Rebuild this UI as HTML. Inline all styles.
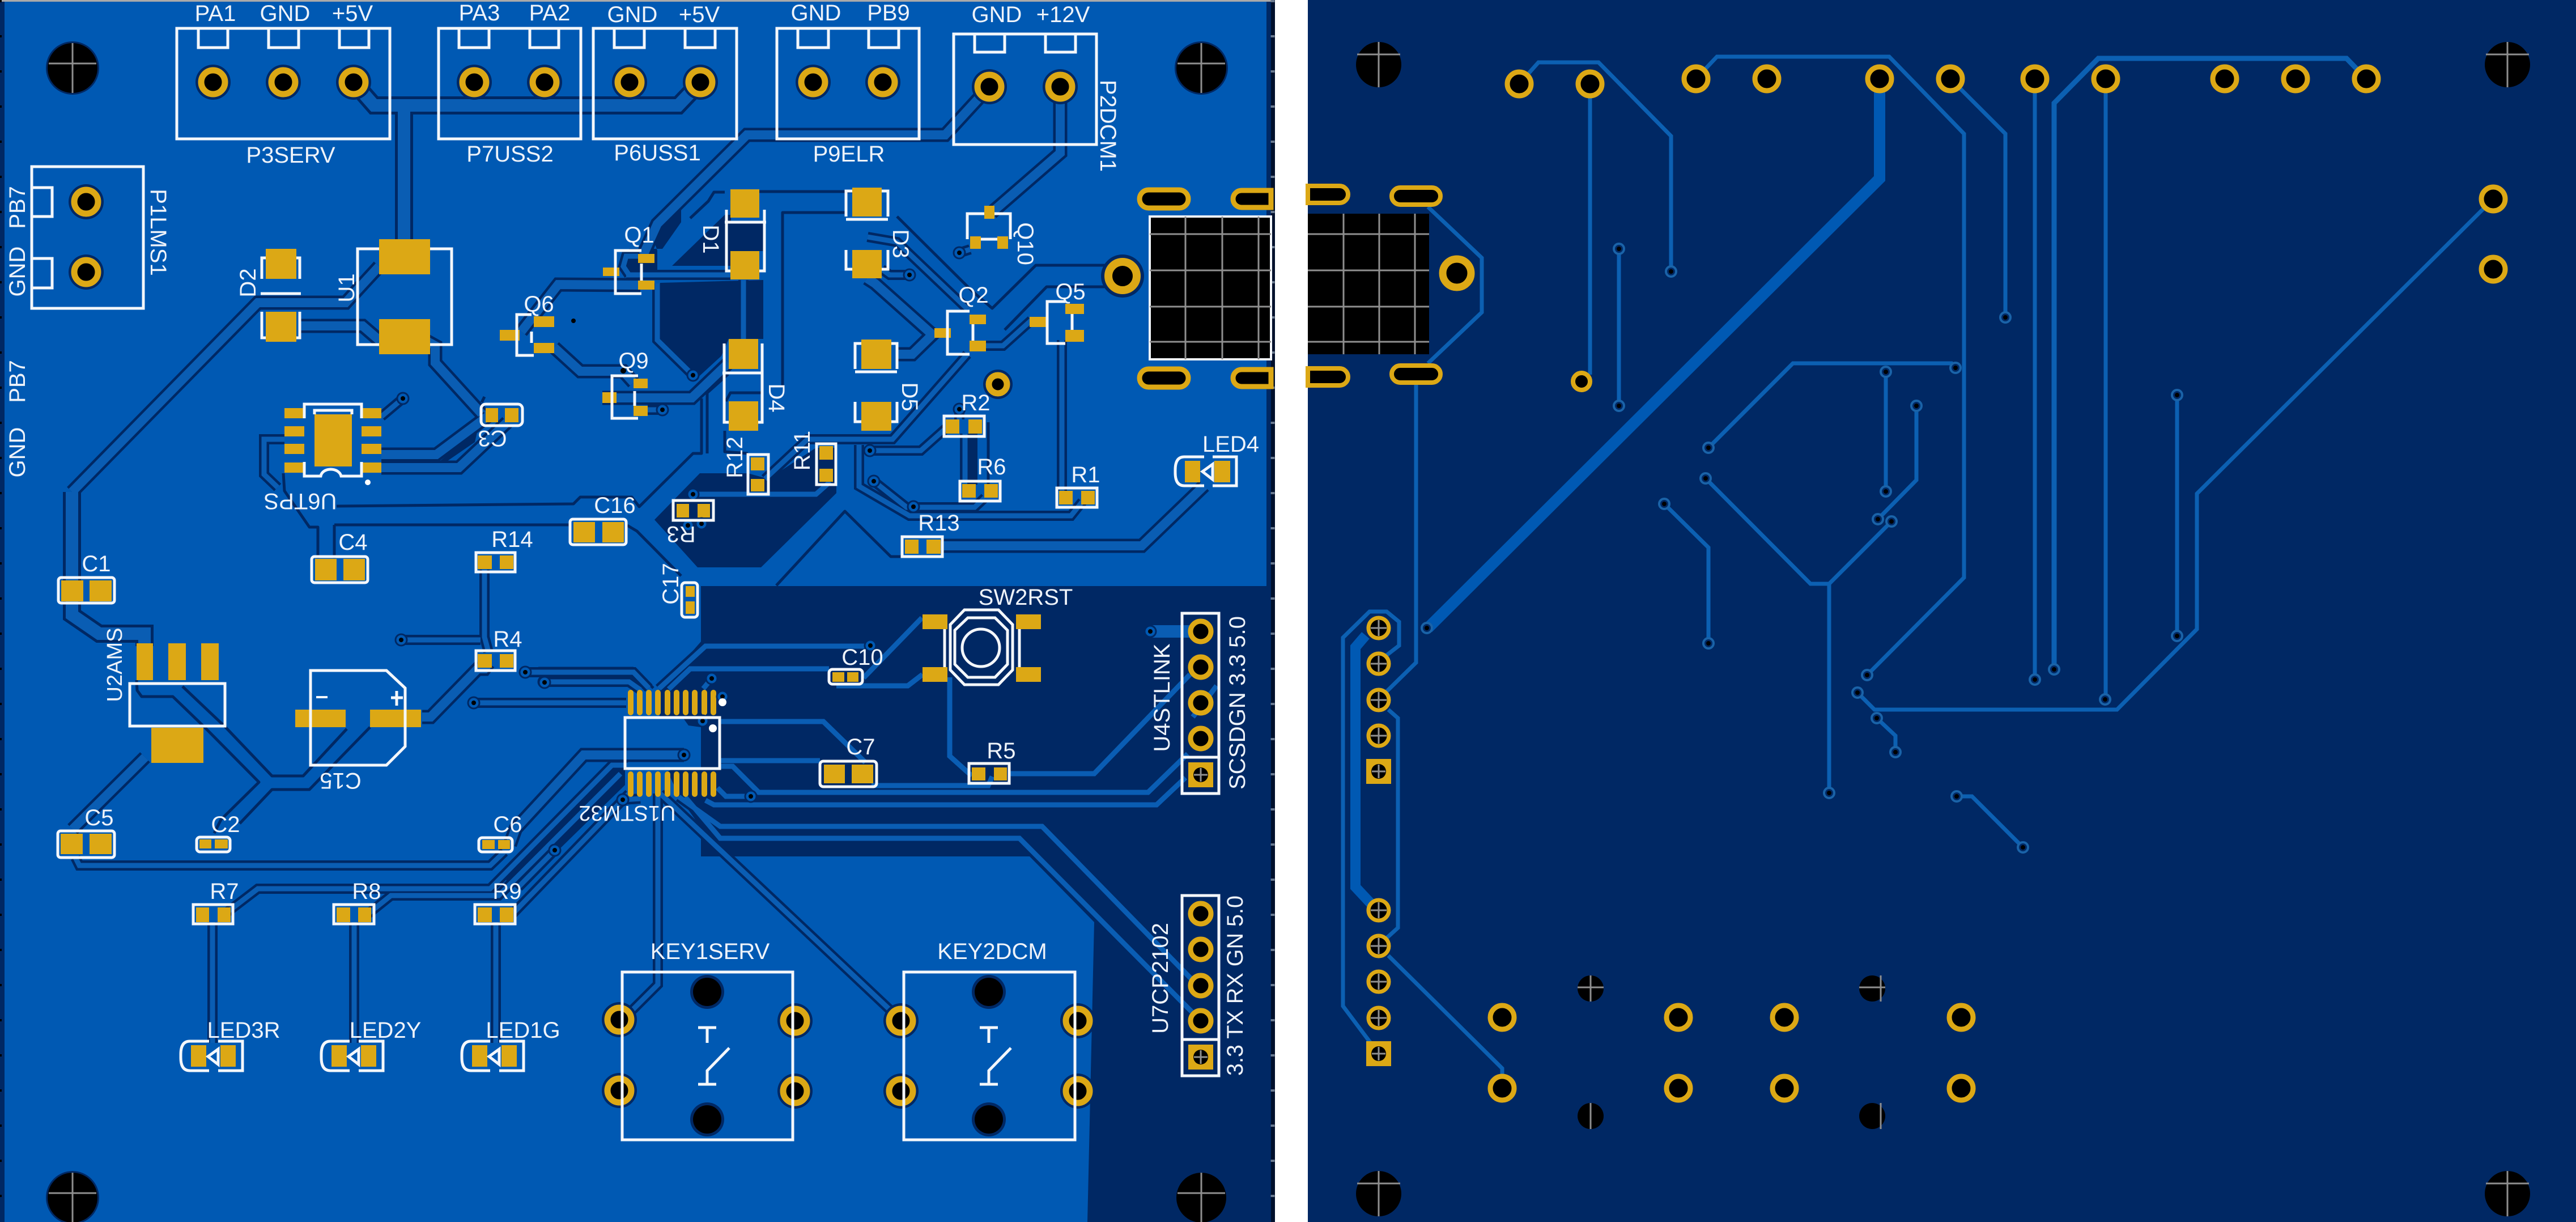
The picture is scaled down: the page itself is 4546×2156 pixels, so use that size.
<!DOCTYPE html>
<html><head><meta charset="utf-8"><title>PCB layout</title>
<style>
html,body{margin:0;padding:0;background:#fff}
svg{display:block}
text{font-family:"Liberation Sans",sans-serif;font-size:40px;fill:#eef3fa;text-anchor:middle;dominant-baseline:central}
.g{fill:#dca815}
.s{fill:none;stroke:#f4f7fb;stroke-width:5}
.d{fill:none;stroke:#002864;stroke-width:5;stroke-linejoin:round}
.b{fill:#002864}
.r{fill:none;stroke:#0c60b2;stroke-width:7;stroke-linejoin:miter}
.via{fill:#002864;stroke:#1a63a8;stroke-width:4}
.vt{fill:#000}
.x{stroke:#8f8f8f;stroke-width:3;fill:none}
</style></head><body>
<svg xmlns="http://www.w3.org/2000/svg" width="4546" height="2156" viewBox="0 0 4546 2156">
<defs>
<g id="pl"><circle r="31" fill="#002864"/><circle r="21" fill="#000" stroke="#dca815" stroke-width="11"/></g>
<g id="pr"><circle r="21" fill="#000" stroke="#dca815" stroke-width="9"/></g>
<g id="pc"><circle r="18" fill="#000" stroke="#dca815" stroke-width="7"/><path class="x" d="M-14 0H14M0-14V14"/></g>
<g id="pk"><circle r="18" fill="#000" stroke="#dca815" stroke-width="9"/></g>
<g id="v"><circle r="9" class="via"/><circle r="4" class="vt"/></g>
<g id="vl"><circle r="10" fill="#0059b3" stroke="#002864" stroke-width="3"/><circle r="4" fill="#000"/></g>
<g id="sq"><rect x="-22" y="-22" width="44" height="44" class="g"/><circle r="13" fill="#000"/><path class="x" d="M-12 0H12M0-12V12"/></g>
<g id="hl"><circle r="47" fill="#002864"/><circle r="44" fill="#000"/><path class="x" d="M-42-8H42M0-44V44"/></g>
<g id="hr"><circle r="40" fill="#000"/><path class="x" d="M-38-18H38M0-40V40"/></g>
<g id="thin">
<path d="M855 1005V1124L862 1150"/><path d="M708 1129H848"/>
<path d="M375 1627V1840"/><path d="M625 1627V1840"/><path d="M875 1627V1840"/>
<path d="M133 1513L140 1527H865L890 1503"/>
<path d="M400 1610L455 1568H865L1080 1350H1108"/><path d="M650 1612L690 1580H880L1095 1365"/><path d="M905 1612L1110 1400"/>
<path d="M927 1186H1118L1145 1214"/><path d="M960 1203H1110L1130 1217"/><path d="M836 1240H1105"/>
<path d="M1163 1215L1245 1140H1537"/><path d="M1180 1216L1218 1180H1463"/>
<path d="M1524 1196L1627 1090"/><path d="M1476 1210H1602L1628 1190"/><path d="M1256 1197L1241 1215"/>
<path d="M1272 1273H1453L1527 1345"/><path d="M1272 1342H1447"/>
<path d="M1266 1390L1281 1405H1325"/><path d="M1271 1352H1293L1339 1398H2026L2096 1330"/>
<path d="M1245 1412L1260 1420H2041L2092 1372"/>
<path d="M1781 1365H1931L2100 1190"/><path d="M1676 1195V1334L1715 1369"/><path d="M1538 1386H1744L1751 1370"/>
<path d="M2147 1210L2105 1265"/>
<path d="M1198 1406L1271 1458H1839L2110 1735"/><path d="M1209 1406L1271 1479H1799L2103 1785"/>
<path d="M1165 1400L1590 1800"/><path d="M1161 1400V1737L1100 1798"/>
<path d="M979 1500L915 1565"/><path d="M1099 1411L1130 1409"/>
<path d="M1556 475L1570 485H1605"/><path d="M1740 610H1770L1820 565"/>
<path d="M1350 845L1425 775H1575L1707 625"/><path d="M1516 785V858L1605 910H1890L1910 885"/>
<path d="M1535 795H1625L1670 755"/><path d="M1542 849L1600 895H1720L1738 878"/>
<path d="M1703 765V850"/><path d="M1693 722V740"/><path d="M1874 600V866"/><path d="M1693 446L1712 440"/>
<path d="M1105 485H1289"/><path d="M1126 452H1105L1100 470L1110 485"/><path d="M1312 494V598"/>
<path d="M1160 500V600L1223 662"/><path d="M1223 872H1440L1465 850"/><path d="M1169 723H1143"/>
<path d="M502 775H466V837L490 860"/><path d="M711 703L673 735"/><path d="M1531 418L1583 427L1707 545"/>
</g>
<g id="med">
<path d="M127 868L455 534H610L669 470"/><path d="M531 575H640L669 600"/>
<path d="M750 600L768 610V640L850 730"/><path d="M673 802H770L860 735"/><path d="M673 825H810L895 745"/>
<path d="M745 1265H760L843 1180H855L862 1170"/><path d="M256 1336L128 1463"/>
<path d="M1207 1332H1030L910 1462L900 1490"/>
<path d="M1746 153L1668 238H1318L1160 395L1135 450"/><path d="M1871 153V270L1750 375"/>
<path d="M1660 963H2015L2125 857"/>
<path d="M1130 503L985 502L920 585"/><path d="M978 613L1024 655H1100L1118 675"/><path d="M1063 702H1221L1286 640"/>
<path d="M1530 491L1544 500L1645 590"/><path d="M1583 625H1610L1650 586"/>
</g>
<g id="wide">
<path d="M624 145L660 186H1197L1236 145"/><path d="M713 186V430"/>
<path d="M127 868V1085L175 1118H255V1140"/>
<path d="M2030 1114H2100" />
</g>
</defs>

<rect width="4546" height="2156" fill="#fff"/>
<!-- LEFT BOARD -->
<rect x="0" y="0" width="2250" height="2156" fill="#002864"/>
<rect x="8" y="3" width="2227" height="2153" fill="#0059b3"/>
<rect x="0" y="0" width="2250" height="3" fill="#a9a9a9"/>
<rect x="2243" y="0" width="7" height="2156" fill="#00102c"/>
<path d="M1.5 0V2156" stroke="#000" stroke-width="3" stroke-dasharray="4 58"/>
<path d="M2246 0V2156" stroke="#6a7a90" stroke-width="7" stroke-dasharray="4 58"/>

<!-- dark copper pour -->
<path class="b" d="M1237 1034H2235V2156H1919L1931 1627L1817 1511H1237V1460L1200 1408L1178 1361L1190 1356H1237V1283L1215 1280L1205 1266H1164V1215L1237 1132Z"/>
<path class="b" d="M1090 1352H1103V1385L970 1515L915 1570L890 1550Z"/>
<path class="b" d="M1148 409L1202 365V392L1169 439H1110L1103 460L1110 478H1160V442Z"/>
<path class="b" d="M1279 379L1186 469H1290V379Z"/>
<path class="b" d="M1279 392H1348V443H1279Z"/>
<path class="b" d="M1165 499L1347 494V598H1286L1273 628L1225 672L1165 600Z"/>
<path class="b" d="M1155 917L1235 835H1320L1356 845L1440 790H1476V870L1343 1001H1231Z"/>
<path class="b" d="M777 813L843 758L838 780L790 813Z"/>
<rect class="b" x="1707" y="765" width="18" height="90"/>

<!-- explicit clearance lines -->
<path class="d" d="M594 893L1012 889L1024 877H1115L1128 894L1223 800H1238V703"/>
<path class="d" d="M1248 800V693L1285 660"/>
<path class="d" d="M1107 927L1124 937L1202 1016"/>
<path class="d" d="M590 926H1006"/>
<path class="d" d="M561 985V930H546L502 866L500 835"/>
<path class="d" d="M590 985V926"/>
<path class="d" d="M850 710L855 700"/>
<path class="d" d="M241 1200L242 1218L250 1229H305L360 1282L457 1380L390 1446L378 1470"/>
<path class="d" d="M322 1211L397 1282L480 1369H535L612 1286"/>
<path class="d" d="M423 1453L480 1393H546L653 1283"/>
<path class="d" d="M1340 338H1504"/>
<path class="d" d="M1381 680V375H1493"/>
<path class="d" d="M1279 339H1260L1250 355L1218 385"/>
<path class="d" d="M1583 382L1715 513L1751 544L1828 468H1950"/>
<path class="d" d="M1773 582L1847 506H1950"/>
<path class="d" d="M1531 497L1638 586L1604 617H1583"/>
<path class="d" d="M1279 760V797L1320 800"/>
<path class="d" d="M1347 693H1289L1281 708"/>
<path class="d" d="M1370 1033L1491 902L1572 982H1597"/>
<path class="d" d="M1744 745V855"/>
<path class="d" d="M1118 1179H950"/>
<path class="d" d="M1118 1179L1153 1214"/>

<!-- traces: clearance + copper -->
<use href="#thin" fill="none" stroke="#002864" stroke-width="18"/>
<use href="#med" fill="none" stroke="#002864" stroke-width="25"/>
<use href="#wide" fill="none" stroke="#002864" stroke-width="32"/>
<use href="#thin" fill="none" stroke="#0a5db3" stroke-width="9"/>
<use href="#med" fill="none" stroke="#0a5db3" stroke-width="16"/>
<use href="#wide" fill="none" stroke="#0a5db3" stroke-width="22"/>

<!-- big holes -->
<use href="#hl" x="128" y="120"/><use href="#hl" x="2120" y="120"/><use href="#hl" x="128" y="2113"/><use href="#hl" x="2120" y="2113"/>

<!-- SMD pads left board -->
<g class="g">
<rect x="669" y="422" width="90" height="62"/><rect x="669" y="563" width="90" height="62"/>
<rect x="469" y="439" width="54" height="53"/><rect x="469" y="550" width="54" height="53"/>
<rect x="555" y="731" width="66" height="92"/>
<rect x="502" y="720" width="35" height="18"/><rect x="502" y="752" width="35" height="18"/><rect x="502" y="783" width="35" height="18"/><rect x="502" y="816" width="35" height="18"/>
<rect x="638" y="720" width="35" height="18"/><rect x="638" y="752" width="35" height="18"/><rect x="638" y="783" width="35" height="18"/><rect x="638" y="816" width="35" height="18"/>
<rect x="857" y="720" width="22" height="25"/><rect x="891" y="720" width="24" height="25"/>
<rect x="108" y="1024" width="39" height="37"/><rect x="158" y="1024" width="39" height="37"/>
<rect x="556" y="986" width="38" height="38"/><rect x="606" y="986" width="38" height="38"/>
<rect x="1012" y="921" width="38" height="36"/><rect x="1063" y="921" width="38" height="36"/>
<rect x="843" y="980" width="25" height="24"/><rect x="882" y="980" width="24" height="24"/>
<rect x="882" y="582" width="35" height="19"/><rect x="942" y="558" width="36" height="19"/><rect x="942" y="605" width="36" height="18"/>
<rect x="1063" y="692" width="25" height="19"/><rect x="1118" y="668" width="25" height="17"/><rect x="1118" y="716" width="25" height="18"/>
<rect x="1064" y="472" width="29" height="15"/><rect x="1126" y="448" width="29" height="16"/><rect x="1126" y="495" width="29" height="16"/>
<rect x="1289" y="334" width="51" height="50"/><rect x="1289" y="443" width="51" height="50"/>
<rect x="1286" y="598" width="52" height="53"/><rect x="1286" y="708" width="52" height="52"/>
<rect x="1325" y="807" width="24" height="23"/><rect x="1325" y="845" width="24" height="22"/>
<rect x="1446" y="787" width="24" height="24"/><rect x="1446" y="827" width="24" height="23"/>
<rect x="1194" y="889" width="22" height="24"/><rect x="1231" y="889" width="22" height="24"/>
<rect x="1210" y="1034" width="16" height="19"/><rect x="1210" y="1061" width="16" height="22"/>
<rect x="521" y="1252" width="89" height="31"/><rect x="653" y="1252" width="90" height="31"/>
<rect x="241" y="1135" width="29" height="65"/><rect x="297" y="1135" width="31" height="65"/><rect x="355" y="1135" width="31" height="65"/>
<rect x="267" y="1284" width="92" height="62"/>
<rect x="107" y="1471" width="39" height="36"/><rect x="158" y="1471" width="39" height="36"/>
<rect x="352" y="1481" width="21" height="16"/><rect x="379" y="1481" width="23" height="16"/>
<rect x="851" y="1482" width="22" height="16"/><rect x="879" y="1482" width="21" height="16"/>
<rect x="843" y="1154" width="25" height="24"/><rect x="882" y="1154" width="24" height="24"/>
<rect x="346" y="1601" width="23" height="26"/><rect x="384" y="1601" width="23" height="26"/>
<rect x="594" y="1601" width="24" height="26"/><rect x="632" y="1601" width="23" height="26"/>
<rect x="843" y="1601" width="25" height="26"/><rect x="882" y="1601" width="24" height="26"/>
<rect x="337" y="1844" width="27" height="38"/><rect x="389" y="1844" width="27" height="38"/>
<rect x="585" y="1844" width="27" height="38"/><rect x="637" y="1844" width="27" height="38"/>
<rect x="833" y="1844" width="27" height="38"/><rect x="885" y="1844" width="27" height="38"/>
<rect x="2091" y="813" width="27" height="38"/><rect x="2143" y="813" width="28" height="38"/>
<rect x="1504" y="331" width="52" height="51"/><rect x="1504" y="441" width="52" height="50"/>
<rect x="1520" y="599" width="53" height="52"/><rect x="1520" y="709" width="53" height="51"/>
<rect x="1737" y="363" width="18" height="23"/><rect x="1712" y="417" width="19" height="22"/><rect x="1760" y="417" width="19" height="22"/>
<rect x="1649" y="579" width="29" height="17"/><rect x="1711" y="555" width="29" height="17"/><rect x="1711" y="601" width="29" height="19"/>
<rect x="1817" y="559" width="33" height="18"/><rect x="1880" y="536" width="33" height="18"/><rect x="1880" y="582" width="33" height="21"/>
<rect x="1628" y="1084" width="44" height="26"/><rect x="1793" y="1084" width="44" height="26"/><rect x="1628" y="1177" width="44" height="26"/><rect x="1793" y="1177" width="44" height="26"/>
<rect x="1469" y="1186" width="21" height="17"/><rect x="1495" y="1186" width="20" height="17"/>
<rect x="1454" y="1349" width="37" height="33"/><rect x="1503" y="1349" width="38" height="33"/>
<rect x="1715" y="1354" width="24" height="23"/><rect x="1754" y="1354" width="23" height="23"/>
<rect x="1669" y="740" width="24" height="25"/><rect x="1709" y="740" width="24" height="25"/>
<rect x="1698" y="854" width="24" height="24"/><rect x="1737" y="854" width="24" height="24"/>
<rect x="1869" y="866" width="24" height="24"/><rect x="1908" y="866" width="24" height="24"/>
<rect x="1597" y="952" width="24" height="25"/><rect x="1635" y="952" width="25" height="25"/>
<!-- STM32 pins -->
<rect x="1108" y="1217" width="10" height="45" rx="5"/><rect x="1124" y="1217" width="10" height="45" rx="5"/><rect x="1140" y="1217" width="10" height="45" rx="5"/><rect x="1156" y="1217" width="10" height="45" rx="5"/><rect x="1173" y="1217" width="10" height="45" rx="5"/><rect x="1189" y="1217" width="10" height="45" rx="5"/><rect x="1205" y="1217" width="10" height="45" rx="5"/><rect x="1221" y="1217" width="10" height="45" rx="5"/><rect x="1238" y="1217" width="10" height="45" rx="5"/><rect x="1254" y="1217" width="10" height="45" rx="5"/>
<rect x="1108" y="1361" width="10" height="45" rx="5"/><rect x="1124" y="1361" width="10" height="45" rx="5"/><rect x="1140" y="1361" width="10" height="45" rx="5"/><rect x="1156" y="1361" width="10" height="45" rx="5"/><rect x="1173" y="1361" width="10" height="45" rx="5"/><rect x="1189" y="1361" width="10" height="45" rx="5"/><rect x="1205" y="1361" width="10" height="45" rx="5"/><rect x="1221" y="1361" width="10" height="45" rx="5"/><rect x="1238" y="1361" width="10" height="45" rx="5"/><rect x="1254" y="1361" width="10" height="45" rx="5"/>
</g>

<!-- vias left -->
<use href="#vl" x="711" y="703"/><use href="#vl" x="1605" y="485"/><use href="#vl" x="1693" y="446"/><use href="#vl" x="1223" y="662"/><use href="#vl" x="1169" y="723"/>
<use href="#vl" x="1223" y="872"/><use href="#vl" x="1535" y="795"/><use href="#vl" x="1542" y="849"/><use href="#vl" x="1612" y="894"/><use href="#vl" x="1693" y="722"/>
<use href="#vl" x="708" y="1129"/><use href="#vl" x="927" y="1186"/><use href="#vl" x="960" y="1203"/><use href="#vl" x="836" y="1240"/><use href="#vl" x="961" y="1204"/>
<use href="#vl" x="1207" y="1332"/><use href="#vl" x="979" y="1500"/><use href="#vl" x="1099" y="1411"/><use href="#vl" x="1256" y="1197"/><use href="#vl" x="1275" y="1229"/>
<use href="#vl" x="1325" y="1405"/><use href="#vl" x="1536" y="1139"/><use href="#vl" x="2030" y="1114"/><use href="#vl" x="1238" y="924"/><use href="#vl" x="1214" y="927"/><use href="#vl" x="1240" y="1272"/>
<circle cx="1012" cy="566" r="4" fill="#000"/><circle cx="1100" cy="654" r="5" fill="#000"/>

<!-- THT pads left -->
<use href="#pl" x="376" y="145"/><use href="#pl" x="500" y="145"/><use href="#pl" x="624" y="145"/>
<use href="#pl" x="837" y="145"/><use href="#pl" x="961" y="145"/><use href="#pl" x="1111" y="145"/><use href="#pl" x="1236" y="145"/>
<use href="#pl" x="1435" y="145"/><use href="#pl" x="1558" y="145"/><use href="#pl" x="1746" y="153"/><use href="#pl" x="1871" y="153"/>
<use href="#pl" x="152" y="356"/><use href="#pl" x="152" y="480"/>
<use href="#pl" x="1093" y="1799"/><use href="#pl" x="1093" y="1924"/><use href="#pl" x="1403" y="1801"/><use href="#pl" x="1403" y="1925"/>
<use href="#pl" x="1590" y="1801"/><use href="#pl" x="1590" y="1925"/><use href="#pl" x="1902" y="1801"/><use href="#pl" x="1902" y="1925"/>
<circle cx="1981" cy="487" r="38" fill="#002864"/><circle cx="1981" cy="487" r="25" fill="#000" stroke="#dca815" stroke-width="14"/>
<circle cx="1761" cy="678" r="26" fill="#002864"/><circle cx="1761" cy="678" r="16" fill="#000" stroke="#dca815" stroke-width="11"/>
<circle cx="1248" cy="1750" r="30" fill="#002864"/><circle cx="1248" cy="1750" r="25" fill="#000"/>
<circle cx="1248" cy="1975" r="30" fill="#002864"/><circle cx="1248" cy="1975" r="25" fill="#000"/>
<circle cx="1745" cy="1750" r="30" fill="#002864"/><circle cx="1745" cy="1750" r="25" fill="#000"/>
<circle cx="1745" cy="1975" r="30" fill="#002864"/><circle cx="1745" cy="1975" r="25" fill="#000"/>
<use href="#pk" x="2119" y="1114"/><use href="#pk" x="2119" y="1177"/><use href="#pk" x="2119" y="1240"/><use href="#pk" x="2119" y="1303"/><use href="#sq" x="2119" y="1367"/>
<use href="#pk" x="2119" y="1612"/><use href="#pk" x="2119" y="1675"/><use href="#pk" x="2119" y="1739"/><use href="#pk" x="2119" y="1801"/><use href="#sq" x="2119" y="1865"/>

<!-- USB left -->
<rect x="2029" y="382" width="214" height="252" fill="#000" stroke="#f4f7fb" stroke-width="4"/>
<path class="x" d="M2092 382V634M2157 382V634M2221 382V634M2029 413H2243M2029 477H2243M2029 541H2243M2029 603H2243"/>
<rect x="2011" y="335" width="86" height="32" rx="16" fill="#000" stroke="#dca815" stroke-width="9"/>
<rect x="2011" y="651" width="86" height="32" rx="16" fill="#000" stroke="#dca815" stroke-width="9"/>
<path d="M2243 336H2191a15 15 0 0 0 0 30H2243Z" fill="#000" stroke="#dca815" stroke-width="9"/>
<path d="M2243 652H2191a15 15 0 0 0 0 30H2243Z" fill="#000" stroke="#dca815" stroke-width="9"/>

<!-- SILK -->
<g class="s">
<rect x="312" y="50" width="376" height="195"/><path d="M350 50V84H402V50M474 50V84H527V50M599 50V84H651V50"/>
<rect x="774" y="50" width="251" height="195"/><path d="M810 50V84H863V50M935 50V84H986V50"/>
<rect x="1047" y="50" width="253" height="195"/><path d="M1084 50V84H1137V50M1209 50V84H1262V50"/>
<rect x="1371" y="50" width="251" height="195"/><path d="M1408 50V84H1462V50M1533 50V84H1586V50"/>
<rect x="1683" y="60" width="252" height="195"/><path d="M1720 60V92H1773V60M1845 60V92H1898V60"/>
<rect x="56" y="294" width="197" height="250"/><path d="M56 331H92V382H56M56 456H92V508H56"/>
<path d="M669 439H631V608H669M759 439H797V608H759"/>
<path d="M462 492V455H469M529 492V455H523M462 550V596H469M529 550V596H523M460 518H531"/>
<path d="M537 738V713H638V738M537 815V840H566c3-16 32-16 36 0H638V815"/><path d="M555 731V724H621V731"/>
<rect x="849" y="713" width="73" height="38" rx="8"/>
<rect x="103" y="1019" width="99" height="45" rx="5"/><rect x="550" y="982" width="99" height="46" rx="5"/><rect x="1006" y="916" width="99" height="45" rx="5"/>
<rect x="840" y="975" width="69" height="34"/><rect x="840" y="1148" width="69" height="35"/>
<path d="M938 555H912V627H942"/><path d="M938 585V605" />
<path d="M1126 663H1080V738H1126M1120 690V716"/>
<path d="M1132 442H1086V518H1132M1132 465V495"/>
<path d="M1282 370V478H1289M1349 370V478H1340M1279 392H1352"/>
<path d="M1278 606V745H1286M1345 606V745H1338M1275 658H1347"/>
<rect x="1320" y="802" width="36" height="70"/><rect x="1441" y="783" width="34" height="72"/><rect x="1188" y="883" width="71" height="35"/>
<rect x="1203" y="1028" width="28" height="61" rx="6"/>
<rect x="1103" y="1266" width="167" height="90"/>
<path d="M548 1183H682L715 1214V1317L682 1350H548Z"/>
<path d="M229 1206H397V1281H229Z"/>
<rect x="102" y="1466" width="100" height="47" rx="5"/><rect x="347" y="1477" width="59" height="26" rx="6"/><rect x="845" y="1478" width="59" height="25" rx="6"/>
<rect x="341" y="1596" width="70" height="34"/><rect x="589" y="1596" width="71" height="34"/><rect x="838" y="1596" width="71" height="34"/>
<path d="M369 1837H335Q319 1837 319 1860V1866Q319 1889 335 1889H369M385 1837H428V1889H385"/>
<path d="M617 1837H583Q567 1837 567 1860V1866Q567 1889 583 1889H617M633 1837H676V1889H633"/>
<path d="M865 1837H831Q815 1837 815 1860V1866Q815 1889 831 1889H865M881 1837H924V1889H881"/>
<path d="M2125 806H2090Q2074 806 2074 829V834Q2074 857 2090 857H2125M2140 806H2182V857H2140"/>
<path d="M367 1864L385 1851V1878Z"/><path d="M615 1864L633 1851V1878Z"/><path d="M863 1864L881 1851V1878Z"/><path d="M2122 832L2140 819V846Z"/>
<path d="M1493 382V337H1504M1567 382V337H1556M1493 441V475H1504M1567 441V475H1556M1493 387H1567"/>
<path d="M1509 651V606H1520M1583 651V606H1573M1509 709V744H1520M1583 709V744H1573M1509 656H1583"/>
<path d="M1737 377H1707V422M1755 377H1783V422M1731 422H1760"/>
<path d="M1711 549H1672V625H1711M1717 572V601"/>
<path d="M1880 532H1848V606H1880M1892 554V582"/>
<rect x="1710" y="1347" width="71" height="35"/><rect x="1666" y="734" width="71" height="36"/><rect x="1694" y="849" width="71" height="35"/><rect x="1865" y="861" width="71" height="34"/><rect x="1592" y="947" width="71" height="35"/>
<rect x="1463" y="1181" width="59" height="26" rx="6"/><rect x="1447" y="1343" width="100" height="45" rx="6"/>
<path d="M1702 1076H1762L1787 1102V1182L1762 1208H1702L1677 1182V1102Z"/>
<path d="M1708 1090H1756L1778 1112V1172L1756 1195H1708L1685 1172V1112Z"/>
<circle cx="1731" cy="1143" r="33"/>
<path d="M1667 1110V1177M1799 1110V1177"/>
<rect x="2086" y="1082" width="65" height="318"/><path d="M2086 1336H2151"/>
<rect x="2086" y="1580" width="65" height="318"/><path d="M2086 1834H2151"/>
<rect x="1098" y="1715" width="301" height="296"/><rect x="1595" y="1715" width="302" height="296"/>
<path d="M1232 1813H1264M1248 1813V1840M1287 1849L1248 1889V1913M1232 1913H1264"/>
<path d="M1729 1813H1761M1745 1813V1840M1784 1849L1745 1889V1913M1729 1913H1761"/>
</g>
<rect x="558" y="1228" width="20" height="4" fill="#f4f7fb"/>
<path d="M690 1231H711M700 1219V1245" stroke="#f4f7fb" stroke-width="5"/>
<circle cx="1275" cy="1239" r="7" fill="#fff"/><circle cx="1258" cy="1285" r="7" fill="#fff"/><circle cx="649" cy="851" r="5" fill="#fff"/>

<!-- TEXT left -->
<text x="380" y="24">PA1</text><text x="503" y="24">GND</text><text x="622" y="24">+5V</text>
<text x="846" y="23">PA3</text><text x="970" y="23">PA2</text><text x="1116" y="26">GND</text><text x="1234" y="26">+5V</text>
<text x="1440" y="23">GND</text><text x="1568" y="23">PB9</text><text x="1759" y="26">GND</text><text x="1876" y="26">+12V</text>
<text x="513" y="274">P3SERV</text><text x="900" y="272">P7USS2</text><text x="1160" y="270">P6USS1</text><text x="1498" y="272">P9ELR</text>
<text transform="translate(1955 222) rotate(90)">P2DCM1</text>
<text transform="translate(279 410) rotate(90)">P1LMS1</text>
<text transform="translate(31 366) rotate(-90)">PB7</text><text transform="translate(31 479) rotate(-90)">GND</text>
<text transform="translate(31 673) rotate(-90)">PB7</text><text transform="translate(31 798) rotate(-90)">GND</text>
<text transform="translate(612 508) rotate(-90)">U1</text><text transform="translate(438 499) rotate(-90)">D2</text>
<text transform="translate(530 884) rotate(180)">U6TPS</text><text transform="translate(869 773) rotate(180)">C3</text>
<text x="170" y="995">C1</text><text x="623" y="957">C4</text><text x="1085" y="892">C16</text><text x="904" y="952">R14</text>
<text x="951" y="537">Q6</text><text x="1118" y="637">Q9</text><text x="1128" y="415">Q1</text>
<text transform="translate(1254 422) rotate(90)">D1</text><text transform="translate(1370 702) rotate(90)">D4</text>
<text transform="translate(1297 807) rotate(-90)">R12</text><text transform="translate(1416 795) rotate(-90)">R11</text>
<text transform="translate(1202 942) rotate(180)">R3</text><text transform="translate(1184 1030) rotate(-90)">C17</text>
<text transform="translate(1107 1434) rotate(180)" style="font-size:38px">U1STM32</text>
<text x="896" y="1128">R4</text><text transform="translate(601 1377) rotate(180)">C15</text>
<text transform="translate(203 1173) rotate(-90)" style="font-size:38px">U2AMS</text>
<text x="175" y="1443">C5</text><text x="398" y="1455">C2</text><text x="896" y="1455">C6</text>
<text x="396" y="1573">R7</text><text x="647" y="1573">R8</text><text x="895" y="1573">R9</text>
<text x="430" y="1818">LED3R</text><text x="680" y="1818">LED2Y</text><text x="923" y="1818">LED1G</text><text x="2172" y="784">LED4</text>
<text transform="translate(1589 430) rotate(90)">D3</text><text transform="translate(1605 700) rotate(90)">D5</text><text transform="translate(1809 430) rotate(90)">Q10</text>
<text x="1718" y="521">Q2</text><text x="1889" y="515">Q5</text>
<text x="1810" y="1054">SW2RST</text><text x="1522" y="1160">C10</text><text x="1519" y="1318">C7</text><text x="1767" y="1325">R5</text>
<text x="1722" y="711">R2</text><text x="1750" y="824">R6</text><text x="1916" y="838">R1</text><text x="1657" y="923">R13</text>
<text transform="translate(2051 1231) rotate(-90)">U4STLINK</text>
<text transform="translate(2184 1240) rotate(-90)" textLength="306" lengthAdjust="spacingAndGlyphs">SCSDGN 3.3 5.0</text>
<text transform="translate(2048 1726) rotate(-90)">U7CP2102</text>
<text transform="translate(2180 1739) rotate(-90)" textLength="318" lengthAdjust="spacingAndGlyphs">3.3 TX RX GN 5.0</text>
<text x="1253" y="1679">KEY1SERV</text><text x="1751" y="1679">KEY2DCM</text>

<!-- RIGHT BOARD -->
<rect x="2308" y="0" width="2238" height="2156" fill="#002864"/>
<g class="r">
<path d="M2681 148L2715 110H2821L2949 240V479"/>
<path d="M2806 148V661"/>
<path d="M2857 439V716"/>
<path d="M2993 139L3030 100H3334L3466 236V1019L3295 1191"/>
<path d="M3442 139L3539 236V560"/>
<path d="M3591 139V1199"/>
<path stroke-width="9" d="M3625 1181V182L3703 103H4141L4176 139"/>
<path d="M3716 139V1234"/>
<path d="M4400 351L3877 871V1110L3736 1252H3308L3278 1222"/>
<path d="M3842 697V1122"/>
<path d="M3015 790L3164 641H3444L3451 649"/>
<path d="M3328 656V867"/>
<path d="M3382 716V847L3314 916"/>
<path d="M3010 844L3195 1030H3228L3338 920"/><path d="M3228 1030V1399"/>
<path d="M2937 889L3015 966V1135"/>
<path d="M3312 1267L3345 1298V1327"/>
<path d="M3453 1405H3480L3570 1495"/>
<path d="M2520 365L2615 455V551L2520 641"/>
<path d="M2499 676V1169L2447 1220"/>
<path d="M2433 1859L2370 1775V1125L2417 1079H2447L2469 1097V1139L2447 1156"/>
<path d="M2450 1252L2467 1267V1637L2447 1655"/>
<path d="M2450 1686L2651 1885V1900"/>
<path fill="none" stroke="#0059b3" stroke-width="20" d="M3317 139V315L2520 1108"/>
<path fill="none" stroke="#0059b3" stroke-width="18" d="M2410 1121L2392 1142V1565L2421 1596"/>
</g>
<!-- vias right -->
<use href="#v" x="2949" y="479"/><use href="#v" x="2857" y="439"/><use href="#v" x="2857" y="716"/>
<use href="#v" x="3539" y="560"/><use href="#v" x="3591" y="1199"/><use href="#v" x="3625" y="1181"/><use href="#v" x="3715" y="1234"/>
<use href="#v" x="3295" y="1191"/><use href="#v" x="3278" y="1222"/><use href="#v" x="3842" y="697"/><use href="#v" x="3842" y="1122"/>
<use href="#v" x="3015" y="790"/><use href="#v" x="3451" y="649"/><use href="#v" x="3328" y="656"/><use href="#v" x="3328" y="867"/>
<use href="#v" x="3382" y="716"/><use href="#v" x="3314" y="916"/><use href="#v" x="3010" y="844"/><use href="#v" x="3338" y="920"/><use href="#v" x="3228" y="1399"/>
<use href="#v" x="2937" y="889"/><use href="#v" x="3015" y="1135"/><use href="#v" x="3312" y="1267"/><use href="#v" x="3345" y="1327"/>
<use href="#v" x="3453" y="1405"/><use href="#v" x="3570" y="1495"/><use href="#v" x="2518" y="1108"/>
<!-- holes right -->
<use href="#hr" x="2433" y="114"/><use href="#hr" x="4425" y="114"/><use href="#hr" x="2433" y="2106"/><use href="#hr" x="4425" y="2106"/>
<g fill="#000">
<circle cx="2807" cy="1744" r="23"/><circle cx="2807" cy="1969" r="23"/><circle cx="3304" cy="1744" r="23"/><circle cx="3304" cy="1969" r="23"/>
</g>
<path class="x" d="M2784 1742H2830M2807 1721V1767M3281 1742H3327M3319 1721V1767M2807 1946V1992M3319 1946V1992"/>
<!-- USB right -->
<rect x="2308" y="377" width="214" height="248" fill="#000"/>
<path class="x" d="M2371 377V625M2434 377V625M2497 377V625M2308 413H2522M2308 477H2522M2308 541H2522M2308 603H2522"/>
<path d="M2308 328H2364a15 15 0 0 1 0 30H2308Z" fill="#000" stroke="#dca815" stroke-width="8"/>
<path d="M2308 650H2364a15 15 0 0 1 0 30H2308Z" fill="#000" stroke="#dca815" stroke-width="8"/>
<rect x="2456" y="331" width="86" height="30" rx="15" fill="#000" stroke="#dca815" stroke-width="8"/>
<rect x="2456" y="645" width="86" height="30" rx="15" fill="#000" stroke="#dca815" stroke-width="8"/>
<circle cx="2571" cy="482" r="25" fill="#000" stroke="#dca815" stroke-width="13"/>
<!-- pads right -->
<use href="#pr" x="2681" y="148"/><use href="#pr" x="2806" y="148"/><use href="#pr" x="2993" y="139"/><use href="#pr" x="3118" y="139"/><use href="#pr" x="3317" y="139"/><use href="#pr" x="3442" y="139"/>
<use href="#pr" x="3591" y="139"/><use href="#pr" x="3716" y="139"/><use href="#pr" x="3926" y="139"/><use href="#pr" x="4051" y="139"/><use href="#pr" x="4176" y="139"/>
<use href="#pr" x="4400" y="351"/><use href="#pr" x="4400" y="475"/>
<circle cx="2791" cy="673" r="15" fill="#000" stroke="#dca815" stroke-width="8"/>
<use href="#pc" x="2433" y="1108"/><use href="#pc" x="2433" y="1171"/><use href="#pc" x="2433" y="1235"/><use href="#pc" x="2433" y="1298"/><use href="#sq" x="2433" y="1361"/>
<use href="#pc" x="2433" y="1606"/><use href="#pc" x="2433" y="1669"/><use href="#pc" x="2433" y="1732"/><use href="#pc" x="2433" y="1796"/><use href="#sq" x="2433" y="1859"/>
<use href="#pr" x="2651" y="1795"/><use href="#pr" x="2651" y="1920"/><use href="#pr" x="2962" y="1795"/><use href="#pr" x="2962" y="1920"/>
<use href="#pr" x="3149" y="1795"/><use href="#pr" x="3149" y="1920"/><use href="#pr" x="3461" y="1795"/><use href="#pr" x="3461" y="1920"/>
</svg>
</body></html>
